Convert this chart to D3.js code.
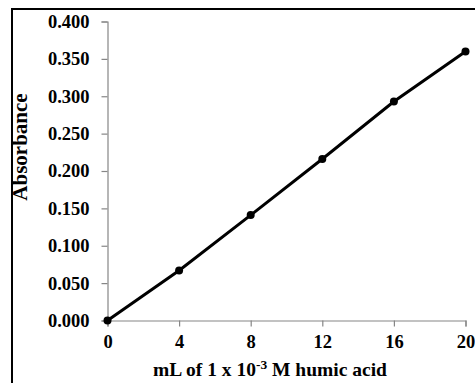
<!DOCTYPE html>
<html>
<head>
<meta charset="utf-8">
<script src="https://cdn.jsdelivr.net/npm/d3@7"></script>
<style>
  body { margin: 0; background: #fff; }
  svg { display: block; font-family: "Liberation Serif", "Times New Roman", serif; font-weight: bold; }
</style>
</head>
<body>
<svg id="chart" width="475" height="383"></svg>
<script>
// data
const volumes = [0, 4, 8, 12, 16, 20];
const absorbance = [0.000, 0.067, 0.141, 0.216, 0.293, 0.360];
const xTicks = [0, 4, 8, 12, 16, 20];
const yTicks = [0, 0.05, 0.1, 0.15, 0.2, 0.25, 0.3, 0.35, 0.4];

const svg = d3.select('#chart');
const width = 475, height = 383;

// outer frame (cut off at right and bottom like the source)
svg.append('rect')
    .attr('x', 12).attr('y', 9)
    .attr('width', 480).attr('height', 400)
    .attr('fill', 'none')
    .attr('stroke', '#000')
    .attr('stroke-width', 2);

const x = d3.scaleLinear().domain([0, 20]).range([107.5, 465.5]);
const y = d3.scaleLinear().domain([0, 0.4]).range([320.5, 21.5]);

const axisColor = '#868686';
const tickFont = '18.5px';

// x axis
const gx = svg.append('g').attr('transform', `translate(0,${y(0)})`)
    .call(d3.axisBottom(x).tickValues(xTicks).tickSize(6).tickPadding(8).tickFormat(d3.format('d')));
gx.select('.domain').attr('stroke', axisColor).attr('stroke-width', 1.2);
gx.selectAll('.tick line').attr('stroke', axisColor).attr('stroke-width', 1.2);
gx.selectAll('.tick text')
    .attr('fill', '#000')
    .style('font-size', tickFont)
    .style('font-family', '"Liberation Serif", serif')
    .style('font-weight', 'bold');

// y axis
const gy = svg.append('g').attr('transform', `translate(${x(0)},0)`)
    .call(d3.axisLeft(y).tickValues(yTicks).tickSize(6).tickPadding(12).tickFormat(d3.format('.3f')));
gy.select('.domain').attr('stroke', axisColor).attr('stroke-width', 1.2);
gy.selectAll('.tick line').attr('stroke', axisColor).attr('stroke-width', 1.2);
gy.selectAll('.tick text')
    .attr('fill', '#000')
    .style('font-size', tickFont)
    .style('font-family', '"Liberation Serif", serif')
    .style('font-weight', 'bold');

// line
const pts = volumes.map((v, i) => [v, absorbance[i]]);
svg.append('path')
    .datum(pts)
    .attr('fill', 'none')
    .attr('stroke', '#000')
    .attr('stroke-width', 3)
    .attr('d', d3.line().x(d => x(d[0])).y(d => y(d[1])));

svg.selectAll('circle.pt')
    .data(pts)
    .join('circle')
    .attr('class', 'pt')
    .attr('cx', d => x(d[0]))
    .attr('cy', d => y(d[1]))
    .attr('r', 4)
    .attr('fill', '#000');

// titles
svg.append('text')
    .attr('transform', 'translate(27,147) rotate(-90)')
    .attr('text-anchor', 'middle')
    .style('font-size', '21px')
    .text('Absorbance');

const xt = svg.append('text')
    .attr('x', 270).attr('y', 376)
    .attr('text-anchor', 'middle')
    .style('font-size', '19.5px');
xt.append('tspan').text('mL of 1 x 10');
xt.append('tspan').attr('dy', -7).style('font-size', '13.5px').text('-3');
xt.append('tspan').attr('dy', 7).text(' M humic acid');
</script>
</body>
</html>
